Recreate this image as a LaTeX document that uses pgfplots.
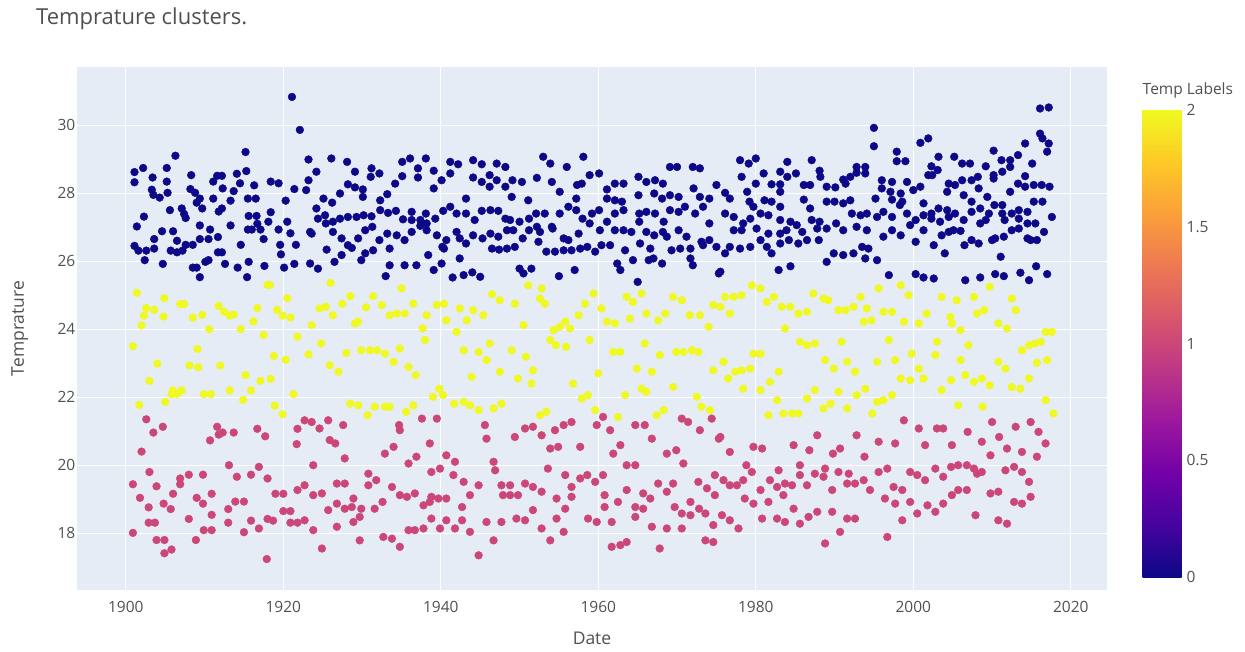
\documentclass[border=0pt]{standalone}
\usepackage{fontspec}
\setmainfont{Open Sans}
\usepackage{pgfplots}
\pgfplotsset{compat=1.18}
\definecolor{bg}{HTML}{E5ECF6}
\definecolor{txt}{HTML}{505050}
\definecolor{cZero}{HTML}{0D0887}
\definecolor{cOne}{HTML}{CC4778}
\definecolor{cTwo}{HTML}{F0F921}
\begin{document}
\begin{tikzpicture}[x=1pt,y=1pt]
\path[use as bounding box] (0,0) rectangle (1245,651);
\node[anchor=base west, inner sep=0pt, text=txt, font=\fontsize{22}{26}\selectfont] at (36,626) {Temprature clusters.};
\begin{axis}[
  at={(77pt,61pt)}, anchor=south west,
  scale only axis, width=1030pt, height=523pt,
  xmin=1893.8, xmax=2024.6, ymin=16.33, ymax=31.71,
  axis background/.style={fill=bg},
  axis line style={draw=none},
  grid=major, major grid style={white, line width=1.25pt},
  major tick length=0pt,
  xtick={1900,1920,1940,1960,1980,2000,2020},
  ytick={18,20,22,24,26,28,30},
  /pgf/number format/assume math mode=true,
  /pgf/number format/set thousands separator={},
  ticklabel style={font=\fontsize{15.5}{18}\selectfont, text=txt},
  xticklabel style={anchor=base, inner sep=0pt, yshift=-22.5pt},
  yticklabel style={anchor=east, inner sep=0pt, xshift=-1.5pt},
  xlabel={Date}, ylabel={Temprature},
  label style={font=\fontsize{17.5}{21}\selectfont, text=txt, inner sep=0pt},
  xlabel style={at={(axis description cs:0.5,-0.1033)}, anchor=base},
  ylabel style={at={(axis description cs:-0.0515,0.5)}, anchor=base, rotate=0},
  colormap={plasma}{rgb255=(13,8,135) rgb255=(70,3,159) rgb255=(114,1,168) rgb255=(156,23,158) rgb255=(189,55,134) rgb255=(216,87,107) rgb255=(237,121,83) rgb255=(251,159,58) rgb255=(253,202,38) rgb255=(240,249,33)},
  point meta min=0, point meta max=2,
  colorbar,
  colorbar/width=39pt,
  colorbar style={
    at={(parent axis.north east)}, anchor=north west,
    xshift=27pt, yshift=-43pt,
    scale only axis, width=39pt, height=467pt,
    axis line style={draw=none}, grid=none,
    major tick length=0pt,
    ytick={0,0.5,1,1.5,2},
    yticklabel style={font=\fontsize{15.5}{18}\selectfont, text=txt, anchor=west, inner sep=0pt, xshift=5pt},
    /pgf/number format/assume math mode=true,
    title={Temp Labels},
    title style={at={(axis description cs:0,1)}, anchor=base west, inner sep=0pt, yshift=9pt, font=\fontsize{15.5}{18}\selectfont, text=txt},
  },
]
% cluster 0 (navy)
\addplot[only marks, mark=*, mark size=3.9pt, color=cZero, mark options={draw=none, fill=cZero}] coordinates {
(1901.1,28.62)(1901.1,28.32)(1902.2,28.74)(1903.4,28.46)(1902.3,27.31)(1901.4,27.02)(1901.1,26.45)(1901.6,26.31)(1902.4,26.03)(1902.6,26.31)(1903.6,26.37)(1903.6,26.65)(1904.6,26.88)(1904.7,25.92)(1903.3,28.10)(1903.5,27.95)(1904.3,27.87)(1905.2,28.74)(1905.2,28.34)(1905.3,28.01)(1906.3,29.10)(1905.6,27.50)(1906.0,26.88)(1906.5,26.60)(1905.7,26.31)(1906.5,26.26)(1907.2,26.31)(1907.6,26.48)(1908.5,26.48)(1907.4,27.39)(1907.1,27.55)(1907.6,27.27)(1908.3,28.53)(1908.2,28.12)(1908.8,28.01)(1909.0,27.72)(1909.4,27.84)(1909.7,27.55)(1909.4,27.05)(1909.4,26.65)(1908.5,25.81)(1909.0,25.81)(1909.4,25.53)(1910.1,25.98)(1910.5,26.03)(1910.5,26.65)(1910.7,26.93)(1911.1,27.84)(1911.1,28.34)(1911.6,28.51)(1912.2,28.51)(1912.3,28.14)(1911.8,27.46)(1912.2,27.55)(1911.7,26.71)(1911.7,26.26)(1912.2,26.26)(1912.6,25.92)(1913.3,27.05)(1913.3,27.78)(1913.7,28.06)(1914.1,28.57)(1914.5,28.29)(1915.2,29.21)(1915.3,28.65)(1915.5,27.84)(1915.6,27.33)(1916.0,26.93)(1915.5,26.93)(1914.6,26.48)(1914.2,25.81)(1915.4,25.53)(1915.6,25.98)(1916.3,28.23)(1916.5,27.84)(1916.6,27.33)(1916.7,27.10)(1917.1,26.93)(1917.5,26.65)(1917.6,25.86)(1918.1,27.16)(1918.4,27.44)(1918.4,28.34)(1919.4,28.29)(1919.4,26.93)(1919.6,26.48)(1919.7,26.20)(1920.1,25.81)(1920.3,27.78)(1920.5,27.16)(1920.9,26.82)(1921.4,25.92)(1921.4,28.12)(1921.1,30.83)(1922.1,29.86)(1921.6,26.48)
(1923.2,28.99)(1924.2,28.63)(1926.1,29.02)(1928.1,28.92)(1929.1,28.63)(1931.2,28.73)(1932.2,28.58)(1935.1,28.92)(1936.1,29.02)(1937.1,28.73)(1938.1,29.02)(1939.1,28.66)(1941.2,28.92)(1942.2,28.85)(1944.1,28.97)(1945.2,28.85)(1947.1,28.87)(1948.2,28.77)
(1923.2,28.38)(1922.9,28.09)(1925.1,27.84)(1926.2,27.72)(1927.2,27.99)(1928.2,28.26)(1929.1,28.17)(1930.1,28.11)(1930.1,27.89)(1931.1,28.48)(1933.2,27.97)(1934.2,28.28)(1935.1,28.50)(1937.1,28.46)(1939.1,28.14)(1940.1,28.38)(1941.2,28.58)(1943.2,27.84)(1944.1,28.46)(1945.2,28.33)(1946.2,28.53)(1946.2,28.19)(1947.1,28.38)(1948.2,28.19)
(1924.2,27.55)(1924.4,27.25)(1925.3,27.35)(1926.3,27.16)(1927.2,27.25)(1928.2,27.30)(1929.3,27.30)(1930.2,27.35)(1931.2,27.32)(1932.3,27.79)(1932.3,27.50)(1933.3,27.42)(1934.3,27.48)(1935.2,27.23)(1936.3,27.45)(1936.3,27.21)(1937.4,27.21)(1938.1,27.40)(1938.2,27.11)(1939.3,27.25)(1940.3,27.48)(1941.2,27.60)(1942.0,27.40)(1943.2,27.40)(1944.3,27.21)(1945.2,27.48)(1946.3,27.50)(1947.3,27.48)(1948.2,27.25)
(1923.4,26.86)(1923.6,26.81)(1925.4,27.11)(1926.3,26.86)(1927.4,26.67)(1928.2,26.47)(1928.7,26.39)(1929.5,26.67)(1930.4,26.91)(1931.3,27.01)(1932.2,26.62)(1933.2,26.81)(1934.4,26.76)(1935.4,26.62)(1936.3,26.86)(1937.4,27.04)(1938.2,26.91)(1939.5,26.76)(1940.2,26.42)(1940.7,26.62)(1942.0,26.86)(1942.4,26.67)(1943.2,26.52)(1944.1,26.76)(1945.3,26.67)(1946.3,26.81)(1947.3,26.72)(1948.4,26.91)
(1925.5,26.34)(1926.5,25.98)(1927.4,26.18)(1929.9,26.03)(1930.4,26.23)(1931.4,26.32)(1933.5,26.37)(1933.5,25.88)(1933.0,25.56)(1935.4,25.88)(1936.9,25.88)(1938.4,26.18)(1939.1,25.74)(1940.1,25.93)(1940.4,26.37)(1942.4,26.08)(1941.5,25.52)(1942.9,25.59)(1944.0,25.67)(1945.0,25.54)(1946.5,26.37)(1947.4,26.34)(1948.4,26.37)(1924.4,25.78)(1923.4,25.93)
(1953.0,29.07)(1953.9,28.87)(1958.1,29.07)(1956.0,28.77)(1949.1,28.38)(1950.3,28.33)(1952.2,28.45)(1954.1,28.33)(1958.9,28.53)(1960.1,28.58)(1957.3,28.24)(1957.9,28.28)(1962.1,28.28)(1963.2,28.28)(1965.1,28.48)(1966.1,28.33)(1967.2,28.38)(1968.2,28.28)(1969.1,28.77)(1970.0,28.77)(1972.0,28.77)(1972.9,28.73)(1972.1,28.14)(1975.0,28.24)
(1949.0,27.89)(1951.1,27.79)(1955.1,28.04)(1957.2,27.84)(1961.1,28.11)(1961.1,27.84)(1962.1,27.79)(1963.0,27.75)(1965.1,27.94)(1967.1,27.99)(1968.1,27.84)(1969.1,27.94)(1970.2,27.89)(1972.9,27.89)(1974.1,27.84)
(1948.8,27.21)(1950.0,27.16)(1951.2,27.25)(1952.1,27.40)(1953.2,27.40)(1954.1,27.01)(1955.1,27.40)(1956.2,27.60)(1957.2,27.50)(1958.0,27.25)(1959.2,27.40)(1960.1,27.50)(1961.1,27.16)(1962.1,27.40)(1963.2,27.50)(1965.2,27.40)(1966.1,27.45)(1967.2,27.40)(1968.3,27.16)(1969.1,27.50)(1970.2,27.45)(1971.0,27.60)(1972.3,27.40)(1973.3,27.60)(1974.1,27.11)
(1949.2,26.91)(1950.4,26.67)(1951.2,26.91)(1952.2,27.01)(1952.6,26.86)(1954.2,26.96)(1955.6,26.67)(1956.2,26.62)(1957.5,26.81)(1958.9,27.11)(1960.2,26.91)(1962.1,26.91)(1963.2,26.91)(1964.2,26.86)(1965.2,27.16)(1966.1,26.86)(1967.1,26.76)(1968.2,26.86)(1968.7,26.72)(1970.2,26.91)(1971.2,26.72)(1973.1,26.57)(1974.1,26.62)
(1949.4,26.42)(1952.4,26.57)(1953.4,26.28)(1954.5,26.28)(1955.6,26.32)(1956.6,26.32)(1957.7,26.37)(1958.6,26.42)(1959.6,26.28)(1960.4,26.47)(1961.5,26.47)(1963.4,26.32)(1965.3,26.52)(1966.6,26.37)(1969.3,26.32)(1970.4,26.37)(1971.7,26.37)(1973.3,26.47)(1975.0,26.42)
(1950.0,25.78)(1950.5,25.64)(1951.5,25.78)(1955.0,25.56)(1957.0,25.74)(1962.4,25.93)(1962.8,25.74)(1964.4,26.03)(1965.0,25.39)(1966.4,26.03)(1967.0,26.08)(1968.1,25.93)(1971.7,26.08)(1972.0,25.88)(1975.3,25.64)
(1995.0,29.92)(1995.0,29.38)(2000.9,29.48)(2001.9,29.61)(1997.9,29.22)(1997.9,28.94)(1999.0,28.94)(1978.0,28.97)(1979.1,28.87)(1980.0,29.02)(1984.0,28.92)(1987.1,28.97)(1983.1,28.63)(1984.0,28.48)(1985.1,28.58)(1988.1,28.66)(1991.1,28.40)(1992.0,28.48)(1992.8,28.77)(1993.9,28.77)(1993.9,28.58)(1992.8,28.60)(1996.0,28.38)(1997.3,28.33)(1999.2,28.33)(2001.9,28.53)
(1976.1,28.01)(1978.2,28.48)(1980.0,28.28)(1981.0,28.58)(1982.0,28.26)(1983.1,28.26)(1986.1,28.24)(1986.9,28.24)(1988.2,28.48)(1989.0,28.19)(1990.1,28.17)(1991.4,28.28)(1996.0,28.14)(1997.1,28.04)(1998.4,27.99)(2000.0,28.09)(2000.9,28.19)
(1976.7,27.84)(1978.9,28.04)(1979.2,27.75)(1981.1,27.79)(1982.0,27.75)(1983.1,28.04)(1986.1,27.81)(1989.0,27.75)(1990.0,27.75)(1991.1,27.70)(1992.0,27.79)(1995.2,27.84)(1997.3,27.81)(1998.6,27.75)(2001.3,27.70)
(1976.1,27.40)(1977.2,27.30)(1978.4,27.11)(1979.3,27.25)(1979.7,27.60)(1980.6,27.40)(1981.6,27.35)(1983.1,27.60)(1983.1,27.21)(1984.4,27.16)(1985.2,27.06)(1986.9,27.55)(1987.1,27.21)(1988.1,27.16)(1990.2,27.11)(1992.2,27.40)(1993.3,27.35)(1994.1,27.40)(1995.4,27.30)(1996.2,27.45)(1997.3,27.30)(1998.3,27.65)(1999.2,27.40)(2000.3,27.21)(2001.3,27.35)
(1977.2,26.91)(1978.2,26.91)(1980.1,26.96)(1981.6,26.81)(1983.1,26.81)(1983.9,26.91)(1985.9,26.86)(1987.8,26.96)(1989.0,26.96)(1991.1,26.91)(1992.8,27.01)(1994.1,26.91)(1996.2,26.72)(1997.3,26.91)(1998.4,26.76)(1999.6,27.06)(2001.3,26.91)
(1976.1,26.23)(1976.7,26.42)(1978.0,26.37)(1979.3,26.42)(1980.6,26.62)(1981.4,26.42)(1982.0,26.23)(1983.1,26.52)(1984.2,26.62)(1985.4,26.52)(1986.5,26.62)(1988.0,26.62)(1989.9,26.23)(1991.1,26.18)(1992.4,26.23)(1993.5,26.42)(1994.3,26.37)(1995.4,26.03)
(1975.5,25.69)(1982.9,25.74)(1984.4,25.85)(1989.0,25.98)(1993.9,26.08)(1996.9,25.59)(2000.3,25.62)(2001.3,25.52)(2000.3,26.57)
(2016.1,30.49)(2017.2,30.52)(2016.1,29.75)(2016.4,29.61)(2017.2,29.46)(2017.0,29.22)(2014.2,29.46)(2010.2,29.25)(2005.2,29.07)(2006.2,28.87)(2007.2,28.87)(2011.2,28.97)(2012.3,28.97)(2013.3,29.12)(2003.2,29.07)(2002.3,28.79)(2003.1,28.68)(2009.2,28.79)(2010.2,28.53)(2011.3,28.63)(2012.3,28.77)(2015.1,28.87)
(2002.4,28.53)(2004.5,28.28)(2005.3,28.24)(2006.2,28.38)(2007.4,28.38)(2008.2,28.48)(2010.2,28.43)(2014.2,28.50)(2013.3,28.28)(2014.2,28.19)(2015.3,28.24)(2016.3,28.24)(2017.3,28.19)
(2004.3,28.04)(2006.4,27.94)(2008.3,28.14)(2009.4,27.89)(2012.3,28.04)(2007.4,27.75)(2015.3,27.75)(2016.4,27.75)(2011.3,27.65)
(2002.3,27.40)(2003.2,27.55)(2004.3,27.50)(2005.3,27.40)(2007.4,27.45)(2008.5,27.55)(2009.6,27.40)(2010.3,27.65)(2011.3,27.40)(2012.5,27.40)(2013.4,27.50)(2014.5,27.45)(2017.6,27.30)
(2002.3,27.25)(2003.4,27.16)(2004.5,27.30)(2006.4,27.21)(2008.5,27.11)(2009.2,27.21)(2011.6,27.21)(2013.4,27.25)(2014.5,27.11)(2015.5,27.11)
(2002.6,26.47)(2003.6,26.76)(2004.5,26.86)(2005.1,26.91)(2006.0,26.89)(2006.5,26.47)(2007.4,26.62)(2008.3,26.52)(2010.0,26.62)(2010.4,26.67)(2011.5,26.72)(2012.5,26.91)(2013.4,26.96)(2014.5,26.67)(2014.9,26.62)(2015.7,26.62)(2016.6,26.86)(2011.1,26.13)
(2002.6,25.49)(2006.6,25.44)(2008.5,25.52)(2010.4,25.62)(2011.5,25.56)(2013.6,25.66)(2014.7,25.44)(2015.6,25.85)(2017.0,25.62)(2004.0,26.23)
};
% cluster 2 (yellow)
\addplot[only marks, mark=*, mark size=3.9pt, color=cTwo, mark options={draw=none, fill=cTwo}] coordinates {
(1900.9,23.50)(1901.4,25.07)(1902.0,24.11)(1902.6,24.62)(1902.3,24.40)(1901.7,21.77)(1903.0,22.48)(1903.6,24.57)(1904.0,22.99)(1904.9,24.91)(1904.8,24.37)(1905.0,21.86)(1906.0,22.20)(1905.8,22.09)(1906.5,22.09)(1907.1,22.20)(1906.9,24.74)(1907.4,24.74)(1908.1,22.93)(1908.5,24.34)(1909.1,23.42)(1909.2,22.88)(1909.7,24.42)(1909.9,22.09)(1910.6,24.00)(1910.8,22.09)(1911.8,24.68)(1912.0,22.93)(1912.5,24.51)(1913.2,24.40)(1913.2,22.20)(1913.7,24.43)(1914.6,24.00)(1914.9,21.92)(1915.2,22.65)(1915.9,22.20)(1916.2,24.23)(1916.7,24.62)(1917.1,22.48)(1917.5,23.83)(1918.0,25.30)(1918.3,25.30)(1918.4,22.54)(1918.9,21.75)(1918.8,23.21)(1919.2,24.57)(1919.9,21.50)(1919.9,24.40)(1920.3,23.10)(1920.5,24.91)(1920.9,24.34)(1921.3,22.09)(1921.8,23.78)
(1926.0,25.36)(1935.0,25.20)(1946.5,25.03)(1947.5,24.85)(1928.5,24.97)(1927.5,24.75)(1931.4,24.97)(1932.5,24.71)(1933.5,24.41)(1934.4,24.46)(1935.4,24.46)(1936.5,24.75)(1938.2,24.41)(1939.5,24.71)(1940.4,24.75)(1942.4,24.61)(1944.1,24.56)(1945.4,24.41)(1924.6,24.61)(1925.4,24.66)(1926.3,24.41)(1930.5,24.64)(1929.1,24.17)(1929.5,24.22)(1937.7,24.02)(1940.7,24.26)(1942.0,23.92)(1943.3,24.26)(1946.2,23.58)(1923.6,24.12)(1938.0,23.68)(1924.8,23.58)(1923.2,23.26)(1928.0,23.30)(1929.9,23.38)(1931.0,23.38)(1931.9,23.38)(1932.9,23.28)(1934.0,23.04)(1934.8,23.43)(1935.9,22.89)(1936.8,22.65)(1942.9,23.38)(1944.8,23.33)(1945.8,23.09)(1947.5,22.75)(1925.9,22.94)(1927.0,22.75)(1943.9,22.60)(1939.8,22.25)(1939.0,22.01)(1940.3,22.06)(1928.5,21.81)(1929.5,21.76)(1930.7,21.47)(1931.6,21.72)(1932.9,21.72)(1933.5,21.72)(1935.6,21.57)(1936.5,21.76)(1941.7,21.81)(1942.9,21.86)(1943.7,21.76)(1944.8,21.62)(1946.7,21.67)(1947.7,21.81)
(1951.1,25.29)(1952.8,25.20)(1959.4,25.05)(1963.6,24.95)(1965.5,25.05)(1969.5,24.95)(1970.6,24.85)(1949.4,24.75)(1952.6,24.90)(1953.2,24.75)(1958.3,24.75)(1960.4,24.61)(1964.4,24.80)(1966.1,24.46)(1967.6,24.26)(1968.5,24.46)(1971.6,24.41)(1972.9,24.41)(1974.6,24.71)(1955.8,24.22)(1957.5,24.41)(1956.4,24.02)(1950.5,24.12)(1954.3,23.97)(1955.1,24.07)(1961.1,24.22)(1962.1,24.17)(1964.0,24.31)(1974.0,24.07)(1953.9,23.68)(1954.6,23.53)(1955.9,23.48)(1958.9,23.68)(1961.9,23.33)(1962.8,23.33)(1965.9,23.58)(1967.8,23.24)(1969.9,23.33)(1970.8,23.33)(1971.9,23.38)(1972.7,23.33)(1949.0,23.38)(1950.8,23.19)(1951.7,22.79)(1960.0,22.70)(1964.9,22.84)(1966.8,22.75)(1974.6,22.79)(1949.8,22.55)(1951.5,22.40)(1956.8,22.40)(1969.5,22.30)(1965.5,22.25)(1966.1,22.16)(1963.4,22.06)(1958.7,22.06)(1957.9,21.96)(1972.5,22.01)(1952.6,21.47)(1953.4,21.57)(1959.6,21.62)(1962.5,21.42)(1967.4,21.47)(1968.3,21.62)(1973.1,21.72)(1974.2,21.62)
(1979.5,25.29)(1980.6,25.20)(1998.4,25.29)(1995.6,25.20)(1999.4,25.00)(1976.1,24.95)(1977.2,24.95)(1978.2,25.00)(1987.3,25.05)(1988.6,24.90)(1989.2,24.85)(1993.3,24.95)(1981.4,24.80)(1982.3,24.95)(1975.5,24.66)(1983.3,24.66)(1984.4,24.66)(1985.4,24.46)(1986.5,24.51)(1990.5,24.56)(1991.4,24.56)(1992.4,24.66)(1994.1,24.61)(1996.2,24.51)(1997.3,24.51)(2001.7,24.46)(1976.7,24.46)(1993.7,24.22)(1994.7,24.26)(1998.8,24.22)(2000.7,24.17)(1983.7,24.02)(1985.6,23.63)(1986.5,23.53)(1987.5,23.58)(1990.9,23.63)(1996.9,23.68)(1979.7,23.28)(1980.6,23.28)(1999.8,23.28)(1988.8,23.09)(1991.6,23.04)(1995.4,23.04)(1997.7,23.09)(1975.9,23.04)(1977.4,22.75)(1978.2,22.79)(1979.3,22.84)(1989.9,22.84)(1992.6,22.75)(1982.9,22.75)(2000.7,22.84)(1976.5,22.55)(1978.4,22.25)(1980.6,22.21)(1981.8,22.45)(1998.4,22.55)(1999.6,22.50)(2001.3,22.55)(1987.5,22.21)(1986.5,21.96)(1990.5,22.16)(1992.8,22.06)(1993.9,22.25)(1997.3,22.06)(1995.4,21.86)(1996.2,21.91)(1982.7,21.91)(1981.6,21.47)(1983.5,21.52)(1984.6,21.52)(1985.4,21.52)(1988.6,21.67)(1989.5,21.81)(1991.6,21.67)(1994.8,21.52)
(2009.7,25.25)(2003.6,24.95)(2005.5,24.85)(2007.7,24.95)(2012.5,24.90)(2013.0,24.56)(2008.1,24.46)(2009.0,24.56)(2004.7,24.36)(2004.9,24.17)(2010.8,24.17)(2011.9,24.02)(2006.0,23.97)(2003.0,23.63)(2007.0,23.53)(2013.8,23.38)(2014.7,23.53)(2015.5,23.58)(2016.2,23.63)(2016.8,23.92)(2017.6,23.92)(2002.8,23.24)(2006.0,23.09)(2010.8,23.04)(2011.7,22.84)(2015.7,23.01)(2017.0,23.09)(2006.6,22.65)(2007.7,22.45)(2008.7,22.55)(2009.7,22.35)(2004.8,22.50)(2003.6,22.21)(2012.5,22.30)(2013.6,22.25)(2014.7,22.55)(2005.7,21.76)(2008.8,21.72)(2016.8,21.91)(2017.8,21.52)
};
% cluster 1 (pink)
\addplot[only marks, mark=*, mark size=3.9pt, color=cOne, mark options={draw=none, fill=cOne}] coordinates {
(1900.9,18.01)(1900.9,19.44)(1902.0,20.40)(1902.6,21.35)(1903.0,19.80)(1903.5,20.96)(1904.7,21.13)(1903.9,19.38)(1901.8,19.04)(1902.9,18.76)(1902.9,18.31)(1903.7,18.31)(1904.8,18.87)(1903.9,17.80)(1904.9,17.80)(1904.9,17.41)(1905.8,17.52)(1905.7,18.71)(1906.0,19.16)(1906.9,19.44)(1906.9,19.61)(1908.0,19.72)(1908.0,18.42)(1908.9,17.80)(1909.0,19.04)(1909.8,19.72)(1909.8,18.87)(1909.9,18.09)(1910.9,18.09)(1910.9,18.54)(1910.9,19.16)(1910.7,20.73)(1911.6,21.13)(1911.8,20.90)(1912.3,20.96)(1913.1,20.00)(1913.0,18.31)(1913.0,18.71)(1913.7,20.96)(1914.1,19.66)(1913.9,18.93)(1915.0,18.93)(1915.0,18.03)(1915.9,19.72)(1915.9,18.37)(1916.9,19.95)(1916.9,18.14)(1916.7,21.07)(1917.7,20.85)(1918.0,19.61)(1918.0,18.42)(1917.9,17.24)(1918.7,18.37)(1919.0,19.16)(1920.0,19.16)(1920.0,18.65)(1920.9,18.65)(1920.9,18.31)(1921.8,18.31)(1921.8,19.27)(1921.7,20.62)(1921.8,21.07)
(1922.7,21.32)(1923.6,21.27)(1924.6,21.08)(1925.7,21.32)(1927.6,21.18)(1925.9,20.74)(1926.6,20.64)(1927.8,20.20)(1923.8,20.00)(1932.9,20.34)(1934.0,20.54)(1934.7,21.18)(1934.8,21.03)(1937.6,21.37)(1939.5,21.37)(1938.6,20.64)(1936.9,20.25)(1935.9,20.05)(1940.7,20.29)(1941.8,20.10)(1938.8,19.80)(1939.9,19.90)(1945.6,21.18)(1945.8,20.78)(1946.7,20.10)(1946.9,19.85)(1930.8,19.75)(1941.6,19.71)(1942.9,19.51)(1944.8,19.41)
(1922.7,19.41)(1923.8,19.12)(1924.9,19.17)(1926.8,19.46)(1927.8,19.46)(1928.9,19.02)(1930.8,19.41)(1931.8,19.56)(1933.8,19.36)(1934.8,19.12)(1935.7,19.07)(1936.7,19.17)(1938.8,19.07)(1940.7,19.02)(1943.7,19.12)(1947.7,19.41)(1947.9,19.12)
(1925.7,18.68)(1926.8,18.87)(1927.8,18.72)(1928.7,18.77)(1929.9,18.72)(1931.6,18.72)(1932.6,18.92)(1937.8,18.82)(1938.6,18.92)(1939.7,19.02)(1942.7,18.77)
(1922.7,18.38)(1923.8,18.09)(1926.8,18.19)(1928.9,18.33)(1929.7,18.48)(1935.9,18.09)(1936.7,18.09)(1937.8,18.14)(1938.8,18.43)(1939.9,18.14)(1940.7,18.38)(1941.8,18.14)(1942.7,18.38)(1943.7,18.04)(1945.8,18.33)(1946.7,17.79)(1947.7,18.33)(1924.9,17.55)(1929.7,17.79)(1932.7,17.89)(1933.8,17.84)(1934.8,17.60)(1944.8,17.35)
(1960.6,21.42)(1970.6,21.37)(1971.4,21.27)(1974.4,21.37)(1951.7,21.13)(1955.6,21.18)(1956.6,21.27)(1959.8,21.18)(1961.5,21.03)(1964.7,21.18)(1965.9,21.18)(1949.4,20.83)(1950.7,21.08)(1952.8,20.88)(1954.5,21.03)(1972.9,21.03)(1975.3,20.78)(1953.9,20.49)(1954.9,20.54)(1957.7,20.54)(1962.8,20.59)(1966.8,20.78)(1961.9,20.34)(1968.7,20.34)(1969.9,20.44)(1963.6,20.00)(1964.7,20.00)(1970.8,20.05)(1953.6,19.90)(1955.8,19.71)(1957.7,19.61)(1958.6,19.71)(1959.6,19.51)(1960.6,19.71)
(1948.8,19.41)(1950.7,19.46)(1951.7,19.36)(1952.8,19.22)(1956.6,19.36)(1963.6,19.27)(1967.6,19.46)(1969.5,19.46)(1972.7,19.51)(1973.8,19.32)(1974.8,19.71)(1948.8,19.12)(1949.8,19.12)(1954.7,19.02)(1956.6,19.07)(1960.8,19.12)(1962.5,18.92)(1965.7,19.17)(1966.6,19.02)(1968.7,19.22)(1969.7,18.77)(1971.7,18.92)(1974.8,19.12)
(1951.7,18.68)(1955.8,18.72)(1960.8,18.77)(1964.7,18.77)(1965.7,18.72)(1964.7,18.48)(1970.6,18.58)(1971.7,18.53)(1972.8,18.72)(1973.6,18.58)(1949.6,18.43)(1950.7,18.38)(1954.7,18.43)(1958.7,18.43)(1959.8,18.33)(1961.7,18.33)(1952.8,18.14)(1955.6,18.04)(1966.8,18.19)(1968.7,18.14)(1970.6,18.14)(1974.6,18.24)(1953.9,17.79)(1961.7,17.60)(1962.8,17.65)(1963.6,17.74)(1967.8,17.55)(1973.6,17.79)(1974.6,17.74)
(1998.8,21.32)(2000.7,21.08)(1975.5,20.83)(1987.8,20.88)(1992.8,20.88)(1979.7,20.54)(1980.8,20.49)(1984.8,20.59)(1986.8,20.44)(1990.7,20.49)(1989.8,20.34)(1995.6,20.69)(1997.7,20.64)(2001.5,20.59)(1976.7,20.39)(1993.8,20.25)(1978.8,20.00)(1979.5,19.80)(1982.9,19.85)(1985.6,20.00)(1988.8,19.90)(1987.5,19.75)(1990.5,19.80)(1991.8,19.75)(1995.6,19.80)(1996.7,19.90)(1999.6,19.80)(2000.5,19.71)
(1975.9,19.56)(1976.7,19.41)(1977.6,19.41)(1978.4,19.56)(1981.8,19.56)(1983.7,19.46)(1984.6,19.41)(1985.6,19.71)(1986.5,19.41)(1988.6,19.66)(1991.6,19.46)(1992.6,19.46)(1993.7,19.56)(1994.5,19.27)(1997.5,19.36)(1998.6,19.27)(2001.5,19.56)(1980.6,19.27)(1982.7,19.36)(1983.5,19.12)(1989.7,19.27)(1978.6,19.02)(1979.7,18.87)(1981.6,18.92)(1996.4,19.02)(1997.7,18.87)(1999.6,18.92)(2000.5,18.58)(1984.8,18.72)
(1975.7,18.53)(1976.7,18.38)(1977.8,18.14)(1980.8,18.43)(1982.7,18.43)(1983.7,18.33)(1985.6,18.28)(1986.7,18.48)(1987.8,18.63)(1989.7,18.63)(1991.6,18.43)(1992.6,18.43)(1990.7,18.04)(1998.6,18.38)(1988.8,17.70)(1996.7,17.89)
(2010.0,21.27)(2014.9,21.27)(2003.0,21.08)(2003.8,21.08)(2006.9,20.98)(2013.0,21.13)(2015.9,20.98)(2010.9,20.83)(2008.7,20.69)(2016.8,20.64)(2004.9,20.59)(2011.9,20.49)(2013.8,20.39)(2009.8,20.29)(2015.7,20.25)
(2002.8,19.90)(2003.8,19.66)(2004.8,19.95)(2005.7,20.00)(2006.8,20.00)(2007.7,19.90)(2008.1,19.75)(2008.7,19.80)(2011.7,19.85)(2012.8,19.95)(2013.8,19.80)(2014.7,19.51)(2004.9,19.12)(2005.7,19.27)(2006.8,19.27)(2009.8,19.17)(2010.8,19.22)(2014.9,19.07)
(2001.8,18.82)(2002.8,18.63)(2003.8,18.87)(2012.8,18.92)(2013.8,18.87)(2007.9,18.53)(2010.8,18.38)(2011.9,18.28)
};
\end{axis}
\end{tikzpicture}
\end{document}
